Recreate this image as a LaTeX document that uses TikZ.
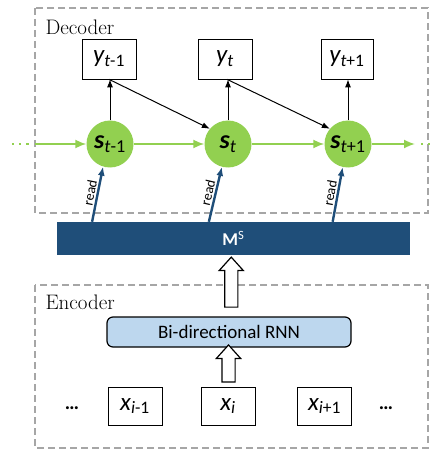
\documentclass[tikz,border=0pt]{standalone}
\usepackage{fontspec}
\usetikzlibrary{arrows.meta,shapes.arrows,calc,positioning}
\newfontfamily\calibrifont{Carlito}
\definecolor{stategreen}{HTML}{92D050}
\definecolor{memblue}{HTML}{1F4E79}
\definecolor{framegray}{HTML}{A6A6A6}
\definecolor{rnnblue}{HTML}{BDD7EE}
\newcommand\seqlabel[3]{{\itshape #1}\textsubscript{\itshape #2\upshape #3}}

\begin{document}
\begin{tikzpicture}[x=1pt, y=-1pt,
		dashframe/.style={draw=framegray, line width=1.4pt, dash pattern=on 7pt off 4pt},
		framelabel/.style={anchor=west, font=\fontsize{21}{21}\selectfont},
		word/.style={draw, line width=0.7pt, fill=white, minimum width=54pt, minimum height=40pt, inner sep=0pt, font=\calibrifont\fontsize{25}{25}\selectfont},
		snode/.style={circle, fill=stategreen, minimum size=47pt, inner sep=0pt, font=\calibrifont\fontsize{26}{26}\selectfont},
		emit/.style={-{Latex[length=8pt, width=6pt]}, line width=1pt},
		recur/.style={-{Latex[length=11pt, width=9pt]}, draw=stategreen, line width=1.8pt},
		readarr/.style={-{Latex[length=9pt, width=7pt]}, draw=memblue, line width=2.4pt},
		readlabel/.style={midway, sloped, above, inner sep=1.5pt, font=\calibrifont\fontsize{14}{14}\selectfont},
		hollow/.style={single arrow, draw, fill=white, line width=1.2pt, rotate=90, inner xsep=0pt, inner ysep=6pt, single arrow head extend=5.5pt, single arrow tip angle=84},
		greendots/.style={draw=stategreen, line width=2.2pt, dash pattern=on 2.2pt off 5pt},
		dots/.style={font=\calibrifont\bfseries\fontsize{20}{20}\selectfont}]

	\useasboundingbox (0,0) rectangle (433,449);

	% decoder
	\draw[dashframe] (35,8) rectangle (428,213);
	\node[framelabel] (declabel) at (42,27) {Decoder};

	\node[word] (y1) at (109,59) {\seqlabel{y}{t}{-1}};
	\node[word] (y2) at (225,59) {\seqlabel{y}{t}{}};
	\node[word, minimum width=52pt] (y3) at (347,59) {\seqlabel{y}{t}{+1}};

	\node[snode] (s1) at (110,144) {\seqlabel{\bfseries s}{t}{-1}};
	\node[snode] (s2) at (228,144) {\seqlabel{\bfseries s}{t}{}};
	\node[snode] (s3) at (348,144) {\seqlabel{\bfseries s}{t}{+1}};

	\coordinate (lin) at (35,144);
	\coordinate (rout) at (415,144);
	\draw[greendots] (12,144) -- (31,144);
	\draw[greendots] (421,144) -- (433,144);
	\draw[recur] (lin) -- (s1);
	\draw[recur] (s1) -- (s2);
	\draw[recur] (s2) -- (s3);
	\draw[recur] (s3) -- (rout);

	\draw[emit] (s1.north) -- (s1.north |- y1.south);
	\draw[emit] (s2.north) -- (s2.north |- y2.south);
	\draw[emit] (s3.north) -- (s3.north |- y3.south);
	\draw[emit] (y1.south) -- (s2.140);
	\draw[emit] ([xshift=2pt]y2.south) -- (s3.140);

	% memory
	\node[fill=memblue, minimum width=353pt, minimum height=33pt, inner sep=0pt, text=white,
		font=\calibrifont\fontsize{18}{18}\selectfont] (ms) at (233.5,238.5) {\textbf{M}\textsuperscript{S}};

	\draw[readarr] ([xshift=-11pt]s1.-107 |- ms.north) -- (s1.-107) node[readlabel] {read};
	\draw[readarr] ([xshift=-13pt]s2.-105 |- ms.north) -- (s2.-105) node[readlabel] {read};
	\draw[readarr] ([xshift=-10pt]s3.-103 |- ms.north) -- (s3.-103) node[readlabel] {read};

	% encoder
	\draw[dashframe] (35,285) rectangle (428,448);
	\node[framelabel] (enclabel) at (42,302) {Encoder};

	\node[draw, line width=1.2pt, rounded corners=6pt, fill=rnnblue, minimum width=244pt, minimum height=30pt,
		inner sep=0pt, font=\calibrifont\fontsize{19}{19}\selectfont] (rnn) at (229,332) {Bi-directional RNN};

	\node[word, minimum height=38pt] (x1) at (135,406) {\seqlabel{x}{i}{-1}};
	\node[word, minimum height=38pt] (x2) at (228,406) {\seqlabel{x}{i}{}};
	\node[word, minimum height=38pt] (x3) at (324.5,406) {\seqlabel{x}{i}{+1}};
	\node[dots] (ldots) at (72,408) {\ldots};
	\node[dots] (rdots) at (386,408) {\ldots};

	\node[hollow, minimum height=50pt] (up1) at ($(ms.south)!0.5!(rnn.north)$) {};
	\node[hollow, minimum height=37pt] (up2) at ($(rnn.south)!0.5!(x2.north)$) {};

\end{tikzpicture}
\end{document}
